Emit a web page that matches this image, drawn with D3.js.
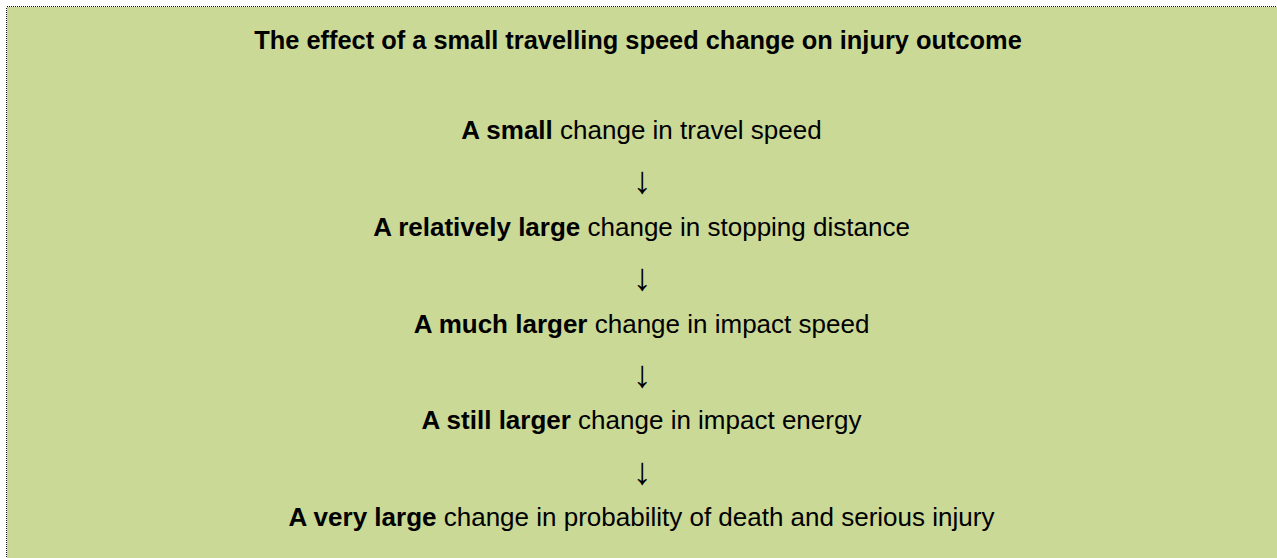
<!DOCTYPE html>
<html lang="en">
<head>
    <meta charset="UTF-8">
    <title>Speed change and injury outcome</title>
    <script src="https://d3js.org/d3.v7.min.js"></script>
    <style>
        * { margin: 0; padding: 0; box-sizing: border-box; }
        body { background: #ffffff; font-family: "Liberation Sans", Arial, sans-serif; }
        #chart { width: 1277px; height: 558px; }
    </style>
</head>
<body>
    <div id="chart"></div>
    <script>
        const title = "The effect of a small travelling speed change on injury outcome";
        const boldParts = ["A small", "A relatively large", "A much larger", "A still larger", "A very large"];
        const restParts = [
            "change in travel speed",
            "change in stopping distance",
            "change in impact speed",
            "change in impact energy",
            "change in probability of death and serious injury"
        ];
        const steps = d3.range(boldParts.length);

        const W = 1277, H = 558;
        const svg = d3.select("#chart").append("svg")
            .attr("width", W)
            .attr("height", H);

        // green panel, dotted border only visible on top/left
        svg.append("rect")
            .attr("x", 6.5).attr("y", 6.5)
            .attr("width", W + 10).attr("height", H + 10)
            .attr("fill", "#cad996")
            .attr("stroke", "#111")
            .attr("stroke-width", 1)
            .attr("stroke-dasharray", "1,1")
            .attr("shape-rendering", "crispEdges");

        const cx = 641.5;

        svg.append("text")
            .attr("x", 638).attr("y", 49)
            .attr("text-anchor", "middle")
            .style("font-size", "25.4px")
            .style("font-weight", "bold")
            .style("fill", "#000")
            .text(title);

        const y = d3.scalePoint()
            .domain(steps)
            .range([139, 526]);

        const rows = svg.selectAll(".row")
            .data(steps)
            .join("text")
            .attr("class", "row")
            .attr("x", cx)
            .attr("y", d => y(d))
            .attr("text-anchor", "middle")
            .style("font-size", "26px")
            .style("fill", "#000");

        rows.append("tspan")
            .style("font-weight", "bold")
            .text(d => boldParts[d]);
        rows.append("tspan")
            .text(d => " " + restParts[d]);

        svg.selectAll(".arrow")
            .data(steps.slice(1))
            .join("text")
            .attr("class", "arrow")
            .attr("x", 642)
            .attr("y", d => (y(d - 1) + y(d)) / 2 + 6)
            .attr("text-anchor", "middle")
            .style("font-size", "38px")
            .style("fill", "#000")
            .text("\u2193");
    </script>
</body>
</html>
